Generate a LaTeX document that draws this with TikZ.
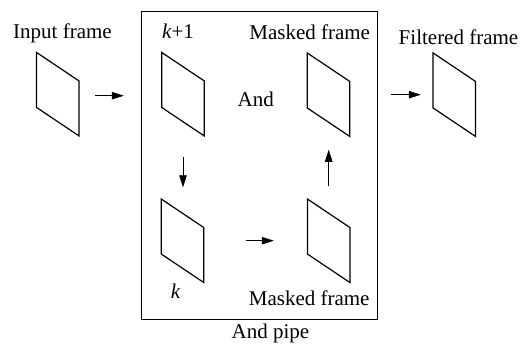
\documentclass[tikz,border=0pt]{standalone}
\usepackage{fontspec}
\setmainfont{Liberation Serif}
\usetikzlibrary{arrows.meta}
\begin{document}
\begin{tikzpicture}[x=1pt,y=-1pt,
  frame/.style={rectangle,minimum width=42.5pt,minimum height=83.5pt,inner sep=0pt,outer sep=0pt},
  framedraw/.style={draw=black,line width=1.2pt,line join=miter},
  lbl/.style={font=\fontsize{21}{24}\selectfont,inner sep=0pt,anchor=base},
  arr/.style={line width=0.6pt,-{Triangle[length=12pt,width=7.5pt]}},
  pipebox/.style={draw=black,line width=0.9pt,minimum width=236pt,minimum height=308pt,inner sep=0pt}]
\useasboundingbox (0,0) rectangle (532,345);
\fill[white] (0,0) rectangle (532,345);
\node[pipebox] (pipe) at (259.7,165.7) {};
\node[frame] (in) at (57.8,94.2) {};
\node[frame] (kp) at (183,94.2) {};
\node[frame] (mt) at (328.5,94.7) {};
\node[frame] (ff) at (454.3,94.7) {};
\node[frame] (k) at (182.4,240.7) {};
\node[frame] (mb) at (328.7,240.8) {};
\foreach \f in {in,kp,mt,ff,k,mb}{
  \draw[framedraw] (\f.north west) -- ([yshift=-28.5pt]\f.north east) -- (\f.south east)
      -- ([yshift=28.5pt]\f.south west) -- cycle;
}
\node[lbl] (tin) at (62.5,39) {Input frame};
\node[lbl] (tkp) at (178,39) {\textit{k}+1};
\node[lbl] (tmt) at (309.7,39.5) {Masked frame};
\node[lbl] (tff) at (458.5,45) {Filtered frame};
\node[lbl] (tand) at (255.8,106) {And};
\node[lbl] (tk) at (175.7,298.7) {\textit{k}};
\node[lbl] (tmb) at (309.2,305.3) {Masked frame};
\node[lbl] (tpipe) at (270.5,338.7) {And pipe};
\draw[arr,shorten <=16pt,shorten >=17.5pt] ([yshift=-1.5pt]in.east) -- ([yshift=-1.5pt]in.east -| pipe.west);
\draw[arr,shorten <=13.3pt,shorten >=12.3pt] (pipe.east |- ff.west) -- (ff.west);
\draw[arr,shorten <=20.7pt,shorten >=11.6pt] (kp.south) -- (kp.south |- k.north);
\draw[arr,shorten <=42pt,shorten >=33.7pt] (k.east) -- (k.east -| mb.west);
\draw[arr,shorten <=12.7pt,shorten >=13.3pt] (mb.north) -- (mb.north |- mt.south);
\end{tikzpicture}
\end{document}
